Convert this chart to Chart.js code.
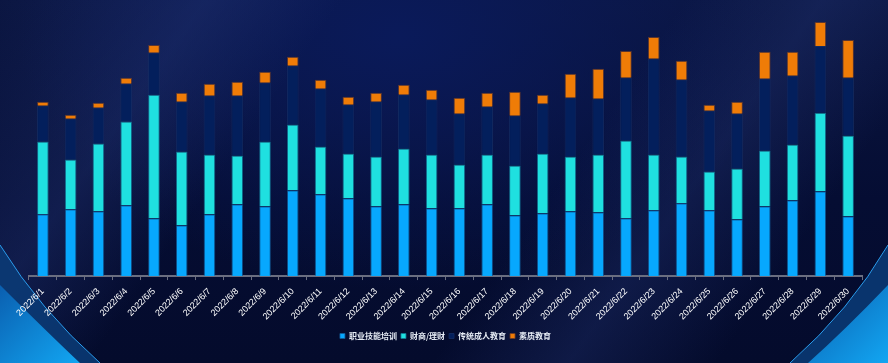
<!DOCTYPE html>
<html>
<head>
<meta charset="utf-8">
<script src="https://cdn.jsdelivr.net/npm/chart.js@4"></script>
<style>
  html, body { margin: 0; padding: 0; }
  body {
    width: 888px; height: 363px; overflow: hidden; position: relative;
    background:
      linear-gradient(125deg, rgba(0,0,0,0) 0%, rgba(40,60,130,0.35) 18%, rgba(0,0,0,0) 30%, rgba(0,0,0,0) 60%, rgba(40,60,130,0.3) 72%, rgba(0,0,0,0) 85%),
      radial-gradient(ellipse at 45% 10%, #0a1a5a 0%, rgba(6,16,60,0) 55%),
      linear-gradient(180deg, #0b1642 0%, #050d33 55%, #040b2c 100%);
  }
  #deco { position: absolute; left: 0; top: 0; }
  #wrap { position: absolute; left: 0; top: 0; width: 888px; height: 363px; }
</style>
</head>
<body>
<svg id="deco" width="888" height="363">
  <defs>
    <linearGradient id="lg" x1="0" y1="0" x2="1" y2="1">
      <stop offset="0" stop-color="#0a5fb0"/>
      <stop offset="1" stop-color="#12a6f2"/>
    </linearGradient>
  </defs>
  <path d="M0,245 Q40,310 100,363 L0,363 Z" fill="#0a3c78" opacity="0.85"/>
  <path d="M0,285 Q45,330 80,363 L0,363 Z" fill="url(#lg)"/>
  <path d="M0,245 Q40,310 100,363" fill="none" stroke="#2a9ef0" stroke-width="1"/>
  <path d="M888,245 Q850,310 790,363 L888,363 Z" fill="#0a3c78" opacity="0.85"/>
  <path d="M888,285 Q845,330 808,363 L888,363 Z" fill="url(#lg)"/>
  <path d="M888,245 Q850,310 790,363" fill="none" stroke="#2a9ef0" stroke-width="1"/>
</svg>
<div id="wrap"><canvas id="barChart"></canvas></div>
<script>
const labels = ["2022/6/1", "2022/6/2", "2022/6/3", "2022/6/4", "2022/6/5", "2022/6/6", "2022/6/7", "2022/6/8", "2022/6/9", "2022/6/10",
    "2022/6/11", "2022/6/12", "2022/6/13", "2022/6/14", "2022/6/15", "2022/6/16", "2022/6/17", "2022/6/18", "2022/6/19", "2022/6/20",
    "2022/6/21", "2022/6/22", "2022/6/23", "2022/6/24", "2022/6/25", "2022/6/26", "2022/6/27", "2022/6/28", "2022/6/29", "2022/6/30"];
const skillTraining = [62, 67, 65, 71, 58, 51, 62, 72, 70, 86, 82, 78, 70, 72, 68, 68, 72, 61, 63, 65, 64, 58, 66, 73, 66, 57, 70, 76, 85, 60];
const finance = [73, 50, 68, 84, 124, 74, 60, 49, 65, 66, 48, 45, 50, 56, 54, 44, 50, 50, 60, 55, 58, 78, 56, 47, 39, 51, 56, 56, 79, 81];
const adultEdu = [36, 41, 36, 38, 42, 50, 59, 60, 59, 59, 58, 49, 55, 54, 55, 51, 48, 50, 50, 59, 56, 63, 96, 77, 61, 55, 72, 69, 67, 58];
const qualityEdu = [4, 4, 5, 6, 8, 9, 12, 14, 11, 9, 9, 8, 9, 10, 10, 16, 14, 24, 9, 24, 30, 27, 22, 19, 6, 12, 27, 24, 24, 38];

document.addEventListener("DOMContentLoaded", () => {
    const mk = (label, data, color, border) => ({
        label: label,
        data: data,
        backgroundColor: color,
        borderColor: border,
        borderWidth: 1,
        barPercentage: 0.42,
        categoryPercentage: 1
    });

    const ctx = document.getElementById("barChart").getContext("2d");
    new Chart(ctx, {
        type: "bar",
        data: {
            labels: labels,
            datasets: [
                mk("职业技能培训", skillTraining, "#07a8fe", "rgba(20,90,150,0.8)"),
                mk("财商/理财", finance, "#1fe0e0", "rgba(20,120,150,0.8)"),
                mk("传统成人教育", adultEdu, "#031f5c", "rgba(20,45,100,0.8)"),
                mk("素质教育", qualityEdu, "#ef7c07", "rgba(110,60,40,0.8)")
            ]
        },
        options: {
            responsive: true,
            maintainAspectRatio: false,
            animation: false,
            layout: { padding: { left: 29, right: 26, top: 17, bottom: 13 } },
            plugins: {
                legend: {
                    position: "bottom",
                    labels: {
                        color: "#e6ecf5",
                        font: { size: 8, weight: "bold", family: "'Noto Sans CJK SC', sans-serif" },
                        boxWidth: 5,
                        boxHeight: 5,
                        padding: 4
                    }
                },
                tooltip: { enabled: false }
            },
            scales: {
                x: {
                    stacked: true,
                    grid: { display: true, drawOnChartArea: false, drawTicks: true, tickLength: 4, color: "#6a6e80" },
                    border: { display: true, color: "#6a6e80", width: 2 },
                    ticks: {
                        color: "#ffffff",
                        minRotation: 45,
                        maxRotation: 45,
                        autoSkip: false,
                        padding: 6,
                        font: { size: 9, family: "'Liberation Sans', Arial, sans-serif" }
                    }
                },
                y: {
                    stacked: true,
                    display: false,
                    min: 0,
                    max: 260
                }
            }
        }
    });
});
</script>
</body>
</html>
